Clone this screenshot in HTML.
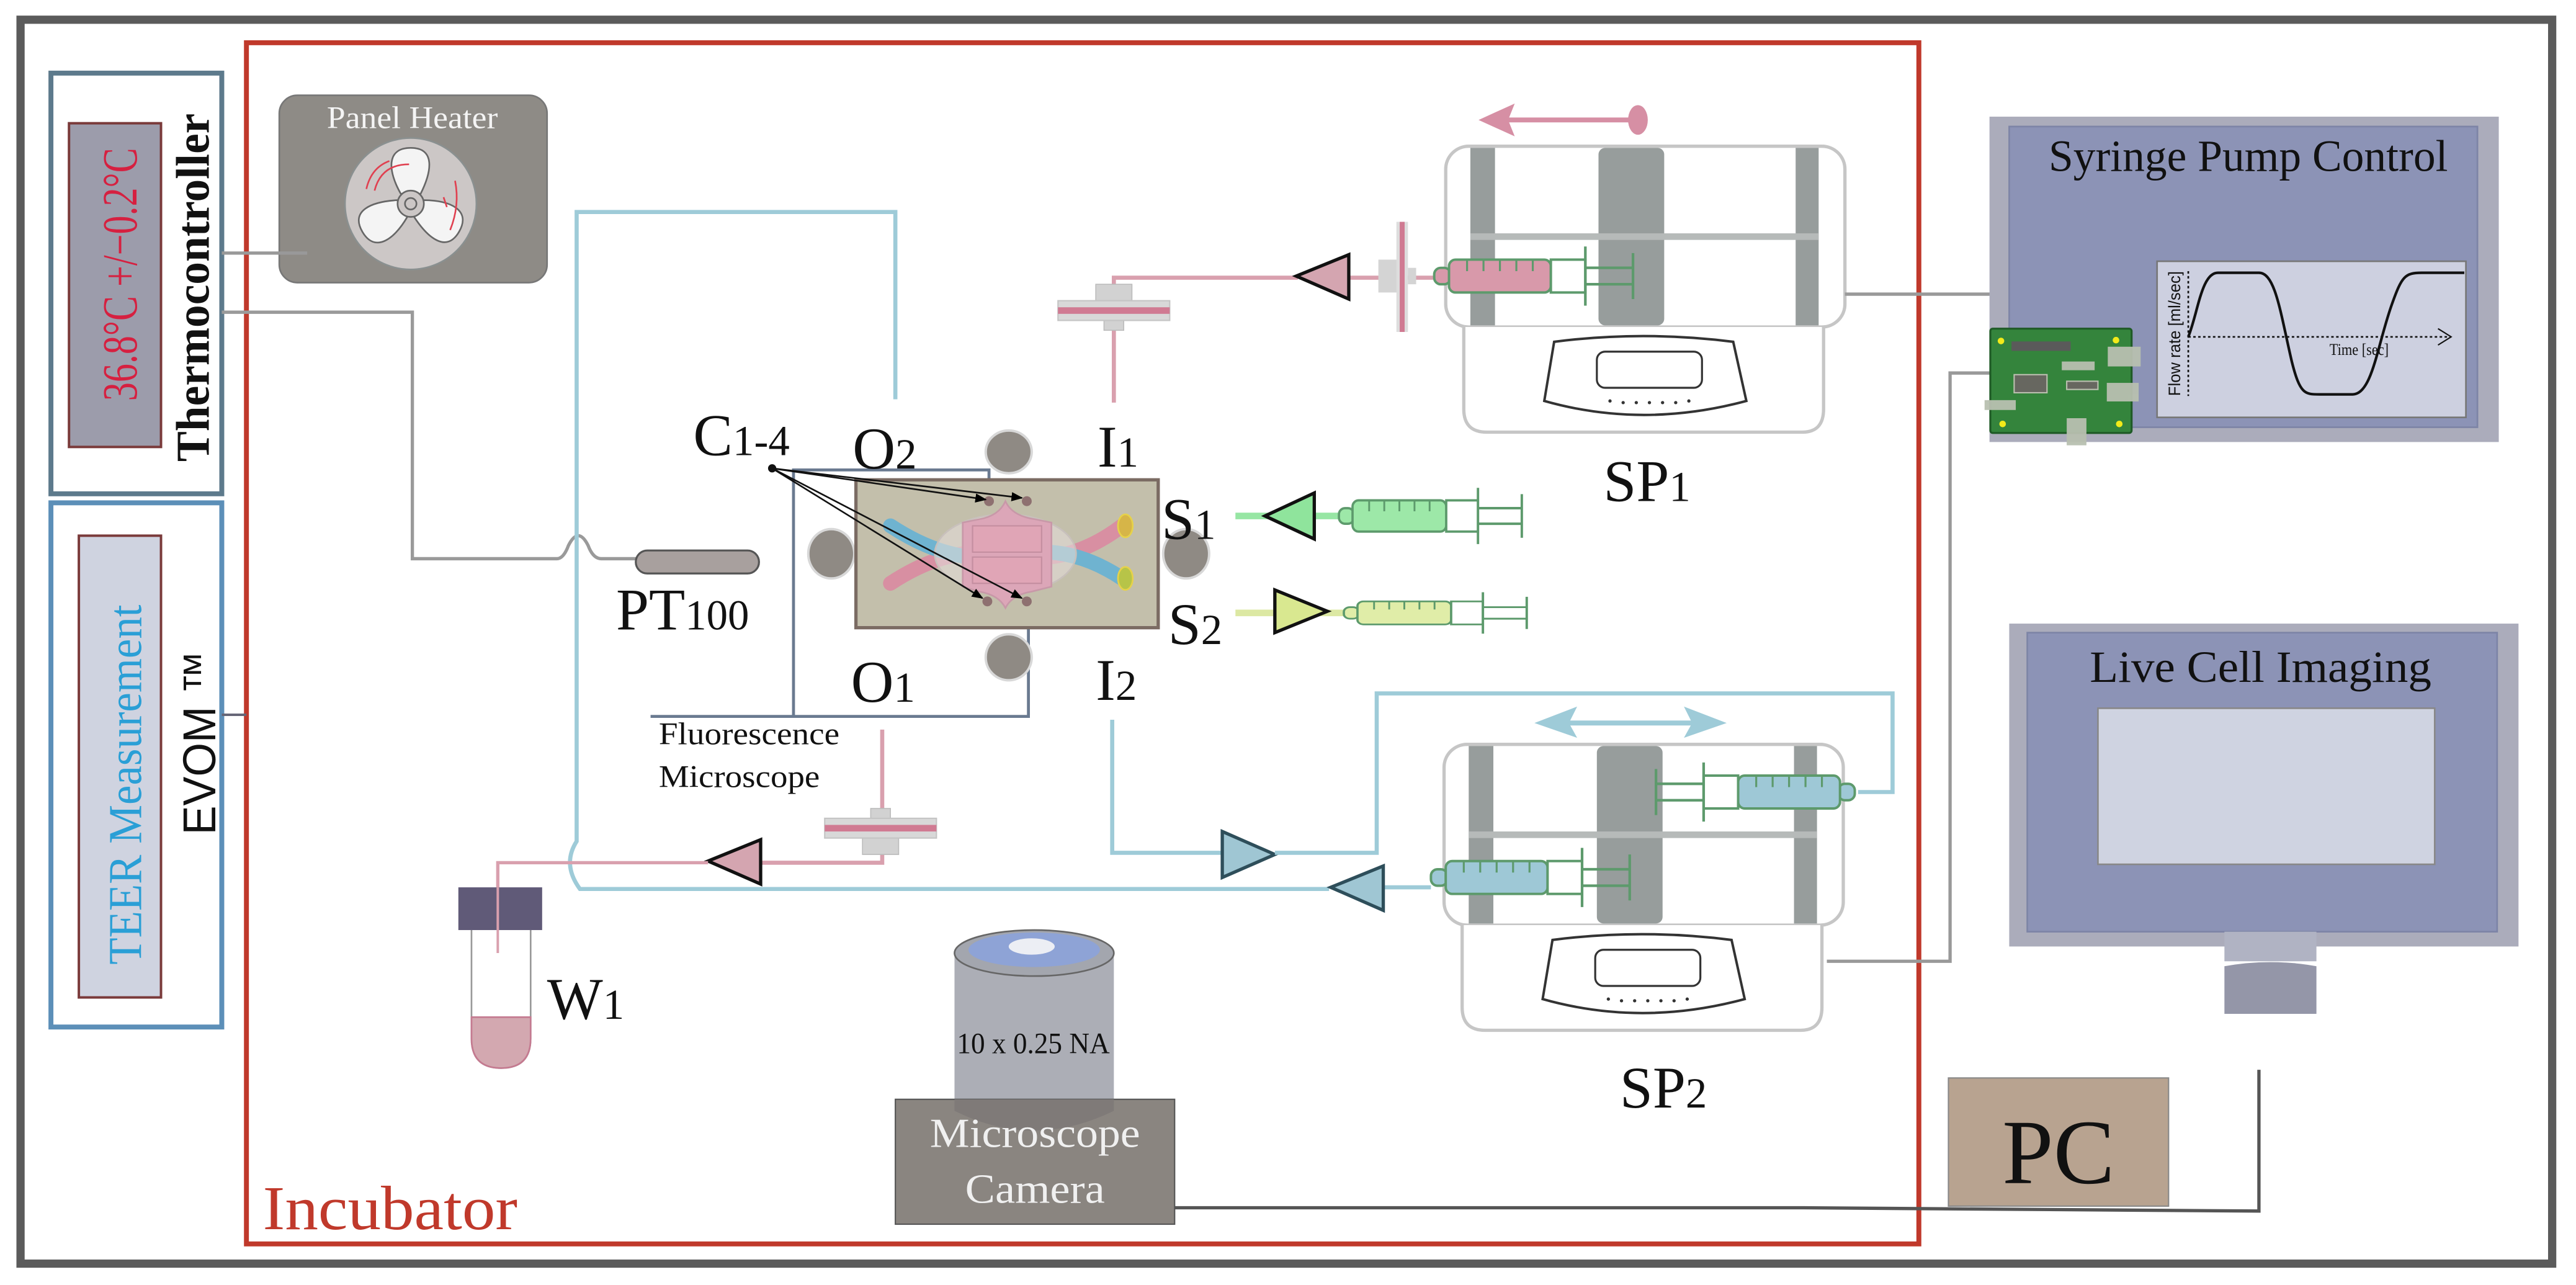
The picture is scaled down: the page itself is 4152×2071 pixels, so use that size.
<!DOCTYPE html>
<html><head><meta charset="utf-8"><style>
html,body{margin:0;padding:0;background:#fff;}
svg{display:block;}
text{font-family:"Liberation Serif",serif;}
</style></head><body>
<svg width="4152" height="2071" viewBox="0 0 1568 782" preserveAspectRatio="none" xmlns="http://www.w3.org/2000/svg">
<defs>
<marker id="ah" viewBox="0 0 10 10" refX="9" refY="5" markerWidth="7" markerHeight="7" orient="auto"><path d="M0,1 L10,5 L0,9 Z" fill="#000"/></marker>
<g id="syr">
 <rect x="0" y="-5" width="10" height="10" rx="4" stroke="#5d9a6c" stroke-width="1.5"/>
 <rect x="9" y="-10" width="62" height="20" rx="4" stroke="#5d9a6c" stroke-width="1.5"/>
 <rect x="71" y="-10" width="21" height="20" fill="#fff" stroke="#5d9a6c" stroke-width="1.5"/>
 <g stroke="#5d9a6c" stroke-width="1.2"><line x1="20" y1="-10" x2="20" y2="-3"/><line x1="30" y1="-10" x2="30" y2="-3"/><line x1="40" y1="-10" x2="40" y2="-3"/><line x1="50" y1="-10" x2="50" y2="-3"/><line x1="60" y1="-10" x2="60" y2="-3"/></g>
 <g stroke="#5d9a6c" stroke-width="1.6"><line x1="92" y1="-18" x2="92" y2="18"/><line x1="92" y1="-5" x2="121" y2="-5"/><line x1="92" y1="5" x2="121" y2="5"/><line x1="121" y1="-14" x2="121" y2="14"/></g>
</g>
<g id="pump">
 <rect x="0" y="0" width="243" height="110" rx="14" fill="#fff" stroke="#c6c6c6" stroke-width="2"/>
 <rect x="15" y="1" width="15" height="108" fill="#979d9c"/>
 <rect x="93" y="1" width="40" height="108" rx="4" fill="#979d9c"/>
 <rect x="213" y="1" width="14" height="108" fill="#979d9c"/>
 <rect x="15" y="53" width="212" height="4" fill="#b6bab9"/>
 <path d="M11,110 V160 Q11,174 25,174 H217 Q230,174 230,160 V110" fill="#fff" stroke="#c6c6c6" stroke-width="2"/>
 <path d="M66,119 Q120,112 175,119 L183,155 Q120,172 60,155 Z" fill="#fff" stroke="#333" stroke-width="1.5"/>
 <rect x="92" y="125" width="64" height="22" rx="5" fill="#fff" stroke="#333" stroke-width="1.2"/>
 <g fill="#333"><circle cx="100" cy="155" r="1"/><circle cx="108" cy="156" r="1"/><circle cx="116" cy="156" r="1"/><circle cx="124" cy="156" r="1"/><circle cx="132" cy="156" r="1"/><circle cx="140" cy="156" r="1"/><circle cx="148" cy="155" r="1"/></g>
</g>
<g id="filt">
 <rect x="-11" y="-16" width="22" height="11" fill="#d2d2d2" stroke="#bbb" stroke-width=".6"/>
 <rect x="-6" y="6" width="12" height="6" fill="#d2d2d2" stroke="#bbb" stroke-width=".6"/>
 <rect x="-34" y="-6" width="68" height="12" fill="#d8d8d8" stroke="#c4c4c4" stroke-width=".8"/>
 <rect x="-34" y="-2" width="68" height="4" fill="#d07a92"/>
</g>
</defs>

<!-- outer frame -->
<rect x="12.5" y="12" width="1541" height="757" fill="none" stroke="#5b5b5b" stroke-width="5"/>
<!-- incubator -->
<rect x="150" y="26" width="1018" height="731" fill="none" stroke="#c0392b" stroke-width="3"/>
<text x="160" y="748" font-size="38" fill="#c0392b" textLength="155" lengthAdjust="spacingAndGlyphs">Incubator</text>

<!-- thermocontroller -->
<rect x="31" y="44.5" width="104" height="256" fill="#fff" stroke="#5d7a8c" stroke-width="3"/>
<rect x="42" y="75" width="56" height="197" fill="#9c9cab" stroke="#7a3a3a" stroke-width="1.5"/>
<text transform="translate(83,244) rotate(-90)" font-size="30" fill="#d62040" textLength="154" lengthAdjust="spacingAndGlyphs">36.8°C +/−0.2°C</text>
<text transform="translate(127,281) rotate(-90)" font-size="29" font-weight="bold" fill="#111" textLength="212" lengthAdjust="spacingAndGlyphs">Thermocontroller</text>

<!-- TEER -->
<rect x="31" y="306" width="104" height="319" fill="#fff" stroke="#5c8fb8" stroke-width="3"/>
<rect x="48" y="326" width="50" height="281" fill="#cfd3e0" stroke="#7a3a3a" stroke-width="1.5"/>
<text transform="translate(86,587) rotate(-90)" font-size="29" fill="#2a9fd6" textLength="219" lengthAdjust="spacingAndGlyphs">TEER Measurement</text>
<text transform="translate(131,508) rotate(-90)" font-size="28" fill="#111" font-family="Liberation Sans, sans-serif" style="font-family:'Liberation Sans',sans-serif" textLength="112" lengthAdjust="spacingAndGlyphs">EVOM ™</text>
<line x1="135" y1="435" x2="150" y2="435" stroke="#667" stroke-width="1.5"/>

<!-- Panel heater -->
<rect x="170" y="58" width="163" height="114" rx="11" fill="#8e8b86" stroke="#777" stroke-width="1"/>
<text x="251" y="78" font-size="19" fill="#f4f4f4" text-anchor="middle" textLength="104" lengthAdjust="spacingAndGlyphs">Panel Heater</text>
<circle cx="250" cy="124" r="40" fill="#ccc7c6" stroke="#8a9090" stroke-width="1"/>
<g transform="translate(250,124)" fill="#f4f4f4" stroke="#666" stroke-width="1">
 <path d="M-6,-6 C-14,-20 -15,-34 0,-34 C15,-34 13,-20 6,-6 Z"/>
 <path transform="rotate(120)" d="M-6,-6 C-14,-20 -15,-34 0,-34 C15,-34 13,-20 6,-6 Z"/>
 <path transform="rotate(240)" d="M-6,-6 C-14,-20 -15,-34 0,-34 C15,-34 13,-20 6,-6 Z"/>
 <circle r="8" fill="#ccc7c6"/><circle r="3.5" fill="#ccc7c6"/>
</g>
<g fill="none" stroke="#e04050" stroke-width="1"><path d="M228,116 Q232,100 249,100"/><path d="M223,115 Q226,102 237,98"/><path d="M274,140 Q280,125 277,110"/><path d="M270,120 L272,126"/></g>
<line x1="135" y1="154" x2="187" y2="154" stroke="#999" stroke-width="2"/>

<!-- thermocontroller to PT100 -->
<path d="M135,190 H251 V340 H339 Q343,340 346,332 Q352,320 358,332 Q361,340 366,340 H388" fill="none" stroke="#9a9a9a" stroke-width="2"/>
<rect x="387" y="335" width="75" height="14" rx="7" fill="#a8a09e" stroke="#555" stroke-width="1.2"/>
<text x="375" y="383" font-size="36" fill="#111">PT<tspan font-size="26">100</tspan></text>

<!-- blue tubing O2 loop -->
<path d="M545,243 V129 H351 V512 Q342,526 353,541 H809" fill="none" stroke="#9ecbd8" stroke-width="2.5"/>
<path d="M842,540 H871" fill="none" stroke="#9ecbd8" stroke-width="2.5"/>
<polygon points="810,540 842,527 842,554" fill="#9fc6d3" stroke="#2e4e5a" stroke-width="2"/>
<!-- I2 blue -->
<path d="M677,438 V519 H744" fill="none" stroke="#9ecbd8" stroke-width="2.5"/>
<polygon points="776,520 744,506 744,534" fill="#9fc6d3" stroke="#2e4e5a" stroke-width="2"/>
<path d="M776,519 H838 V422 H1152 V482 H1131" fill="none" stroke="#9ecbd8" stroke-width="2.5"/>

<!-- pink I1 -->
<path d="M678,245 V169 H790" fill="none" stroke="#d9a0ae" stroke-width="2.5"/>
<use href="#filt" transform="translate(678,189)"/>
<path d="M821,169 H874" fill="none" stroke="#d9a0ae" stroke-width="2.5"/>
<polygon points="789,168 821,155 821,182" fill="#d4a5b0" stroke="#111" stroke-width="2"/>
<rect x="839" y="158" width="12" height="20" fill="#d4d4d4"/>
<rect x="850" y="135" width="7" height="67" fill="#ddd"/>
<line x1="853.5" y1="135" x2="853.5" y2="202" stroke="#d07a92" stroke-width="3"/>
<rect x="857" y="163" width="5" height="10" fill="#d4d4d4"/>

<!-- pink O1 -> waste -->
<path d="M537,444 V525 H463" fill="none" stroke="#d9a0ae" stroke-width="2.5"/>
<use href="#filt" transform="translate(536,504) scale(1,-1)"/>
<polygon points="431,524 463,511 463,538" fill="#d4a5b0" stroke="#111" stroke-width="2"/>
<path d="M431,525 H303 V580" fill="none" stroke="#d9a0ae" stroke-width="2"/>

<!-- W1 tube -->
<path d="M287,566 V632 Q287,650 305,650 Q323,650 323,632 V566" fill="#fff" stroke="#999" stroke-width="1"/>
<path d="M287,619 H323 V632 Q323,650 305,650 Q287,650 287,632 Z" fill="#d3a8b0" stroke="#c47a90" stroke-width="1"/>
<rect x="279" y="540" width="51" height="26" fill="#605a78"/>
<line x1="303" y1="540" x2="303" y2="580" stroke="#d9a0ae" stroke-width="1.5"/>
<text x="333" y="620" font-size="36" fill="#111">W<tspan font-size="26">1</tspan></text>

<!-- Fluorescence microscope lines -->
<path d="M483,436 V286 H602 V302" fill="none" stroke="#6a7a90" stroke-width="1.8"/>
<path d="M396,436 H626 V366" fill="none" stroke="#6a7a90" stroke-width="1.8"/>
<text x="401" y="453" font-size="19" fill="#111" textLength="110" lengthAdjust="spacingAndGlyphs">Fluorescence</text>
<text x="401" y="479" font-size="19" fill="#111" textLength="98" lengthAdjust="spacingAndGlyphs">Microscope</text>

<!-- circles around chip -->
<g fill="#8f8a84" stroke="#d8d8d8" stroke-width="1.5">
<ellipse cx="614" cy="275" rx="14" ry="13"/>
<ellipse cx="506" cy="337" rx="14" ry="15"/>
<ellipse cx="722" cy="337" rx="14" ry="15"/>
<ellipse cx="614" cy="400" rx="14" ry="14"/>
</g>
<!-- chip -->
<rect x="521" y="292" width="184" height="90" fill="#c3bfab" stroke="#7b6b63" stroke-width="2"/>
<path d="M542,355 Q580,330 615,338 Q650,345 683,320" fill="none" stroke="#d88fa2" stroke-width="9" stroke-linecap="round"/>
<path d="M542,320 Q580,345 615,338 Q650,330 683,352" fill="none" stroke="#6fb3d0" stroke-width="9" stroke-linecap="round"/>
<ellipse cx="685" cy="320" rx="4.5" ry="7" fill="#d6b548" stroke="#e6d24a"/>
<ellipse cx="685" cy="352" rx="4.5" ry="7" fill="#b7c448" stroke="#e6d24a"/>
<ellipse cx="612" cy="337" rx="43" ry="24" fill="#e2dcd8" fill-opacity=".6" stroke="#c8c0bc"/>
<path d="M612,305 Q616,314 630,316 L640,318 V357 L628,360 Q616,362 612,370 Q608,362 596,360 L586,357 V318 L596,316 Q608,314 612,305 Z" fill="#dca6b8" stroke="#c898a8"/>
<rect x="592" y="320" width="42" height="16" fill="#e0a5b6" stroke="#c48ea0" stroke-width=".8"/>
<rect x="592" y="339" width="42" height="16" fill="#e0a5b6" stroke="#c48ea0" stroke-width=".8"/>
<g fill="#8e7070"><circle cx="602" cy="305" r="3"/><circle cx="625" cy="305" r="3"/><circle cx="601" cy="366" r="3"/><circle cx="625" cy="366" r="3"/></g>
<g stroke="#111" stroke-width="1" fill="none" marker-end="url(#ah)">
<line x1="470" y1="285" x2="600" y2="304"/><line x1="470" y1="285" x2="622" y2="303"/><line x1="470" y1="285" x2="598" y2="364"/><line x1="470" y1="285" x2="622" y2="364"/>
</g>
<circle cx="470" cy="285" r="2.5" fill="#111"/>

<!-- labels -->
<text x="422" y="277" font-size="36" fill="#111">C<tspan font-size="26">1-4</tspan></text>
<text x="519" y="285" font-size="36" fill="#111">O<tspan font-size="26">2</tspan></text>
<text x="668" y="284" font-size="36" fill="#111">I<tspan font-size="26">1</tspan></text>
<text x="707" y="328" font-size="36" fill="#111">S<tspan font-size="26">1</tspan></text>
<text x="711" y="392" font-size="36" fill="#111">S<tspan font-size="26">2</tspan></text>
<text x="518" y="427" font-size="36" fill="#111">O<tspan font-size="26">1</tspan></text>
<text x="667" y="426" font-size="36" fill="#111">I<tspan font-size="26">2</tspan></text>

<!-- S1 S2 syringes -->
<line x1="752" y1="314" x2="815" y2="314" stroke="#7ee08e" stroke-width="4" opacity=".8"/>
<polygon points="770,314 800,300 800,328" fill="#8fe49c" stroke="#111" stroke-width="2"/>
<use href="#syr" transform="translate(815,314) scale(0.92,0.95)" fill="#9de8a8"/>
<line x1="752" y1="373" x2="818" y2="373" stroke="#d9e69a" stroke-width="4" opacity=".9"/>
<polygon points="808,372 776,359 776,385" fill="#d9e890" stroke="#111" stroke-width="2"/>
<use href="#syr" transform="translate(818,373) scale(0.92,0.7)" fill="#e0eda8"/>

<!-- SP1 -->
<use href="#pump" transform="translate(880,89)"/>
<use href="#syr" transform="translate(873,168)" fill="#d899aa"/>
<line x1="908" y1="73" x2="995" y2="73" stroke="#d68fa4" stroke-width="3"/>
<polygon points="900,73 922,63 918,73 922,83" fill="#d68fa4"/>
<ellipse cx="997" cy="73" rx="6" ry="9" fill="#d68fa4"/>
<text x="976" y="305" font-size="36" fill="#111">SP<tspan font-size="26">1</tspan></text>
<line x1="1123" y1="179" x2="1212" y2="179" stroke="#999" stroke-width="2"/>

<!-- SP2 -->
<use href="#pump" transform="translate(879,453)"/>
<use href="#syr" transform="translate(1129,482) scale(-1,1)" fill="#9ec8d6"/>
<use href="#syr" transform="translate(871,534)" fill="#9ec8d6"/>
<line x1="945" y1="440" x2="1040" y2="440" stroke="#9ecbd8" stroke-width="3"/>
<polygon points="934,440 960,430 955,440 960,449" fill="#9ecbd8"/>
<polygon points="1051,440 1025,430 1030,440 1025,449" fill="#9ecbd8"/>
<text x="986" y="674" font-size="36" fill="#111">SP<tspan font-size="26">2</tspan></text>
<path d="M1112,585 H1187 V227 H1212" fill="none" stroke="#999" stroke-width="2"/>

<!-- Syringe pump control -->
<rect x="1211" y="71" width="310" height="198" fill="#abacbb"/>
<rect x="1223" y="77" width="285" height="183" fill="#8c93b6" stroke="#7d84a6" stroke-width="1"/>
<text x="1247" y="104" font-size="27" fill="#111" textLength="243" lengthAdjust="spacingAndGlyphs">Syringe Pump Control</text>
<rect x="1313" y="159" width="188" height="95" fill="#cdd0e0" stroke="#777" stroke-width="1"/>
<line x1="1332" y1="165" x2="1332" y2="241" stroke="#111" stroke-width="1" stroke-dasharray="1.5,1.5"/>
<line x1="1332" y1="205" x2="1492" y2="205" stroke="#111" stroke-width="1" stroke-dasharray="1.5,1.5"/>
<path d="M1484,200 L1492,205 L1484,210" fill="none" stroke="#111" stroke-width=".8"/>
<path d="M1332,205 C1338,190 1340,166 1350,166 L1375,166 C1385,166 1388,190 1395,220 C1400,240 1403,240 1412,240 L1432,240 C1444,240 1447,210 1456,185 C1462,168 1464,166 1474,166 L1500,166" fill="none" stroke="#111" stroke-width="1.6"/>
<text transform="translate(1327,241) rotate(-90)" font-size="10" fill="#111" style="font-family:'Liberation Sans',sans-serif" textLength="76" lengthAdjust="spacingAndGlyphs">Flow rate [ml/sec]</text>
<text x="1418" y="216" font-size="10" fill="#111" textLength="36" lengthAdjust="spacingAndGlyphs">Time [sec]</text>

<!-- circuit board -->
<rect x="1211.5" y="200" width="86" height="63.5" rx="1.5" fill="#34843c" stroke="#1f5a26" stroke-width="1.2"/>
<g fill="#f2ea1a"><circle cx="1218" cy="207.5" r="2"/><circle cx="1288" cy="207" r="2"/><circle cx="1219" cy="258" r="2"/><circle cx="1290" cy="258" r="2"/></g>
<rect x="1224.4" y="207.8" width="36" height="5.7" fill="#5a5a5a"/>
<rect x="1226" y="228" width="20" height="11" fill="#676760" stroke="#bbc0b0" stroke-width=".8"/>
<rect x="1258" y="232" width="19" height="5" fill="#676760" stroke="#bbc0b0" stroke-width=".8"/>
<g fill="#b8c0b0" opacity=".95"><rect x="1283" y="211" width="20" height="12"/><rect x="1255" y="220" width="20" height="5.3"/><rect x="1282.4" y="233" width="19.4" height="11.3"/><rect x="1208" y="243.5" width="19" height="6"/><rect x="1258" y="254.5" width="12" height="16.5"/></g>

<!-- Live Cell Imaging monitor -->
<rect x="1223" y="379.5" width="310" height="196.5" fill="#abacbb"/>
<rect x="1234" y="385" width="286" height="182" fill="#8c93b6" stroke="#7d84a6" stroke-width="1"/>
<text x="1272" y="415" font-size="27" fill="#111" textLength="208" lengthAdjust="spacingAndGlyphs">Live Cell Imaging</text>
<rect x="1277" y="431" width="205" height="95" fill="#cfd3e1" stroke="#888" stroke-width="1"/>
<rect x="1354" y="567" width="56" height="18" fill="#b0b3c3"/>
<path d="M1354,588 Q1382,583 1410,588 V617 H1354 Z" fill="#9496a8"/>

<!-- PC -->
<rect x="1186" y="656" width="134" height="78" fill="#b8a390" stroke="#888" stroke-width=".8"/>
<text x="1253" y="720" font-size="56" fill="#111" text-anchor="middle">PC</text>
<path d="M702,735 H1098 L1375,737 V651" fill="none" stroke="#555" stroke-width="2"/>

<!-- objective & camera -->
<rect x="581" y="580" width="97" height="105" fill="#acaeb6"/>
<ellipse cx="629.5" cy="580" rx="48.5" ry="14" fill="#a3a6ae" stroke="#666" stroke-width="1"/>
<ellipse cx="629.5" cy="578" rx="40" ry="10.5" fill="#8ea3d6"/>
<ellipse cx="628" cy="576" rx="14" ry="5" fill="#eceef4"/>
<text x="629" y="641" font-size="18" fill="#111" text-anchor="middle" textLength="93" lengthAdjust="spacingAndGlyphs">10 x 0.25 NA</text>
<rect x="545" y="669" width="170" height="76" fill="#8a8580" stroke="#555" stroke-width=".8"/>
<path d="M581,669 V676 Q629,700 678,676 V669 Z" fill="#7f7a78"/>
<text x="630" y="698" font-size="25" fill="#f0f0f0" text-anchor="middle" textLength="128" lengthAdjust="spacingAndGlyphs">Microscope</text>
<text x="630" y="732" font-size="25" fill="#f0f0f0" text-anchor="middle" textLength="85" lengthAdjust="spacingAndGlyphs">Camera</text>
</svg>
</body></html>
